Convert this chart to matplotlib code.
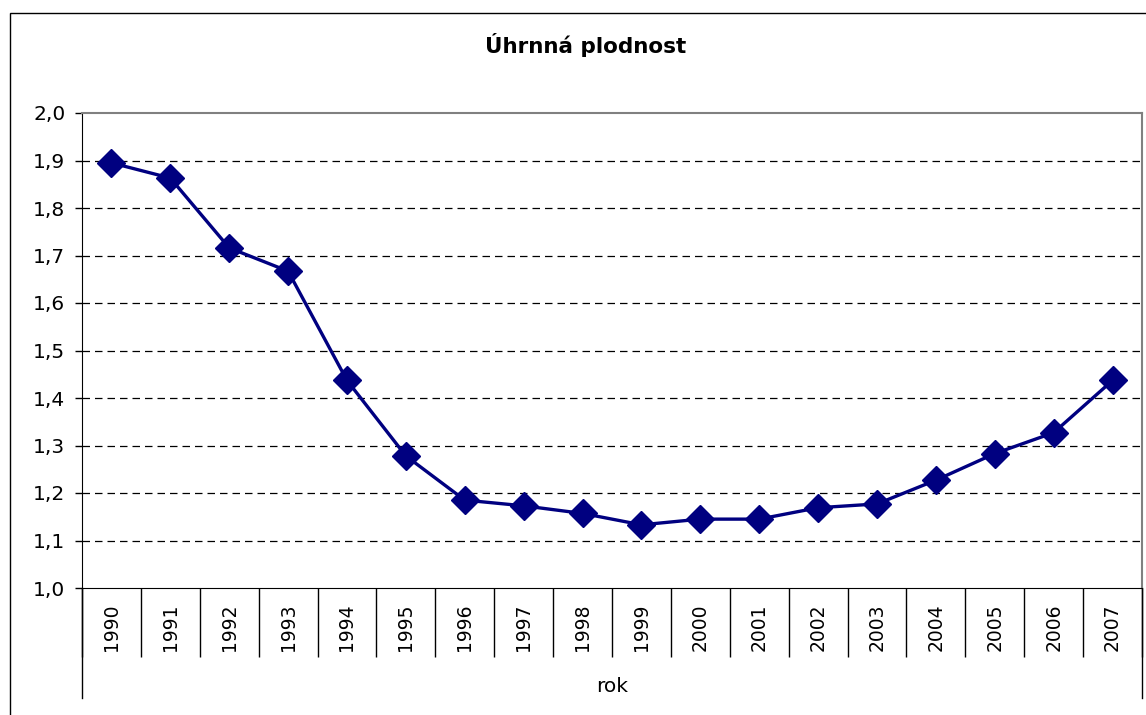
import matplotlib.pyplot as plt
from matplotlib.patches import Rectangle

# Úhrnná plodnost (total fertility rate) by year
years = [str(y) for y in range(1990, 2008)]
tfr = [1.895, 1.863, 1.716, 1.667, 1.437, 1.278, 1.185, 1.173, 1.157, 1.133,
       1.145, 1.145, 1.169, 1.177, 1.227, 1.283, 1.327, 1.437]
y_ticks = [1.0, 1.1, 1.2, 1.3, 1.4, 1.5, 1.6, 1.7, 1.8, 1.9, 2.0]
y_labels = [f"{v:.1f}".replace(".", ",") for v in y_ticks]

plt.rcParams['font.family'] = ['DejaVu Sans']

W, H = 1146, 715
fig = plt.figure(figsize=(W / 100, H / 100), dpi=100)
ax = fig.add_axes([82 / W, 1 - 588 / H, (1142 - 82) / W, (588 - 113) / H])

# outer chart border (runs off the right and bottom edge)
fig.patches.append(Rectangle((10 / W, -0.1), 1.2, 1 - 13 / H + 0.1,
                             transform=fig.transFigure, fill=False,
                             edgecolor='black', linewidth=1.0))

x = list(range(len(years)))
ax.plot(x, tfr, color='#000080', linewidth=2.4, marker='D', markersize=14.5,
        markerfacecolor='#000080', markeredgecolor='#000080', zorder=3)

ax.set_xlim(-0.5, len(years) - 0.5)
ax.set_ylim(1.0, 2.0)

# y axis
ax.set_yticks(y_ticks)
ax.set_yticklabels(y_labels, fontsize=14.5)
ax.tick_params(axis='y', direction='out', length=5, width=1, pad=7)
for v in y_ticks[1:-1]:
    ax.axhline(v, color='black', linewidth=0.9, linestyle=(0, (6, 4)), zorder=1)

# category axis: separators at boundaries, labels at centres
ax.set_xticks([i - 0.5 for i in range(len(years) + 1)])
ax.set_xticklabels([])
ax.tick_params(axis='x', which='major', direction='out', length=50, width=1)
ax.set_xticks(x, minor=True)
ax.set_xticklabels(years, minor=True, rotation=90, fontsize=13.5)
ax.tick_params(axis='x', which='minor', length=0, pad=11)

# outer lines of the multi-level axis
tr = ax.get_xaxis_transform()
for xb in (-0.5, len(years) - 0.5):
    ax.plot([xb, xb], [0, -110 / 475], transform=tr, color='black',
            linewidth=1, clip_on=False)
ax.text((len(years) - 1) / 2, -98 / 475, "rok", transform=tr, ha='center',
        va='center', fontsize=14.5)

for side in ('left', 'bottom'):
    ax.spines[side].set_color('black')
for side in ('top', 'right'):
    ax.spines[side].set_color('#808080')
    ax.spines[side].set_linewidth(1.5)

fig.text(586 / W, 1 - 45 / H, "Úhrnná plodnost", ha='center', va='center',
         fontsize=15.5, fontweight='bold')

fig.savefig("out.png", dpi=100)
